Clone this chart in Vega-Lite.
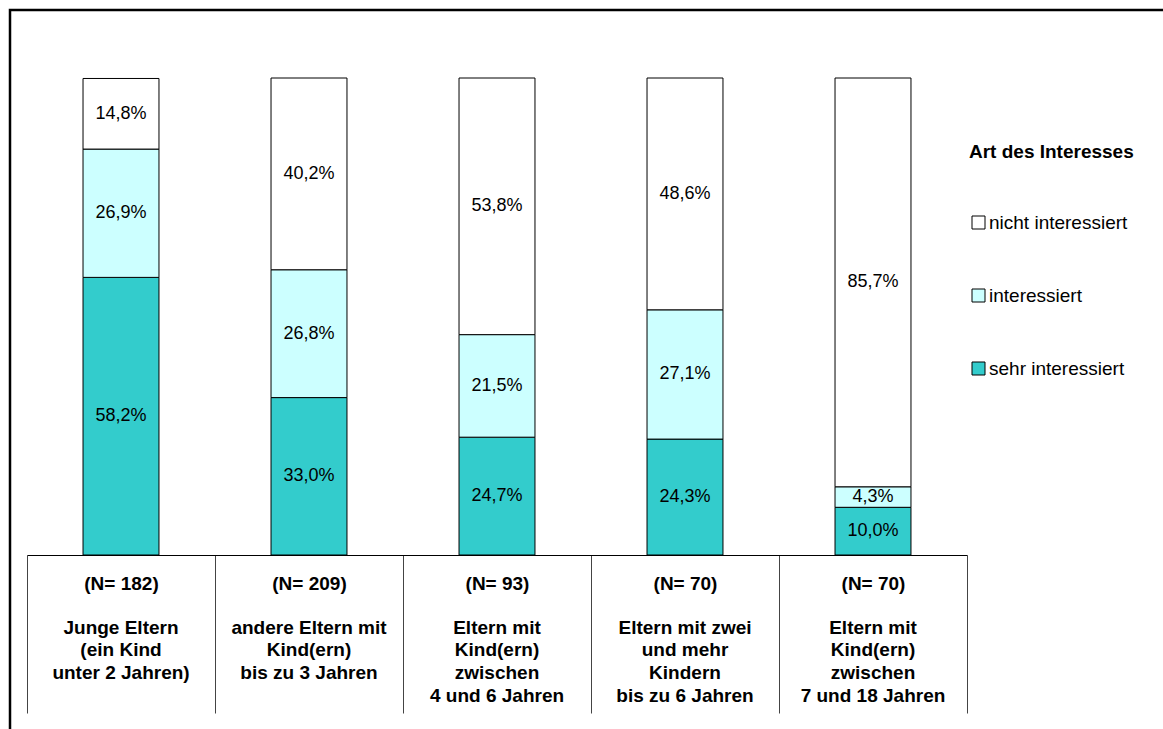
{
  "$schema": "https://vega.github.io/schema/vega-lite/v6.json",
  "width": 1160,
  "height": 725,
  "autosize": {"type": "none"},
  "padding": {"left": 10, "top": 10, "right": 0, "bottom": 0},
  "background": "white",
  "config": {
    "view": {"stroke": "black", "strokeWidth": 2.5},
    "font": "Liberation Sans"
  },
  "data": {
    "values": [
      {"Gruppe": "(N= 182)|Junge Eltern|(ein Kind|unter 2 Jahren)", "Art": "sehr interessiert", "v": 58.2},
      {"Gruppe": "(N= 182)|Junge Eltern|(ein Kind|unter 2 Jahren)", "Art": "interessiert", "v": 26.9},
      {"Gruppe": "(N= 182)|Junge Eltern|(ein Kind|unter 2 Jahren)", "Art": "nicht interessiert", "v": 14.8},
      {"Gruppe": "(N= 209)|andere Eltern mit|Kind(ern)|bis zu 3 Jahren", "Art": "sehr interessiert", "v": 33.0},
      {"Gruppe": "(N= 209)|andere Eltern mit|Kind(ern)|bis zu 3 Jahren", "Art": "interessiert", "v": 26.8},
      {"Gruppe": "(N= 209)|andere Eltern mit|Kind(ern)|bis zu 3 Jahren", "Art": "nicht interessiert", "v": 40.2},
      {"Gruppe": "(N= 93)|Eltern mit|Kind(ern)|zwischen|4 und 6 Jahren", "Art": "sehr interessiert", "v": 24.7},
      {"Gruppe": "(N= 93)|Eltern mit|Kind(ern)|zwischen|4 und 6 Jahren", "Art": "interessiert", "v": 21.5},
      {"Gruppe": "(N= 93)|Eltern mit|Kind(ern)|zwischen|4 und 6 Jahren", "Art": "nicht interessiert", "v": 53.8},
      {"Gruppe": "(N= 70)|Eltern mit zwei|und mehr|Kindern|bis zu 6 Jahren", "Art": "sehr interessiert", "v": 24.3},
      {"Gruppe": "(N= 70)|Eltern mit zwei|und mehr|Kindern|bis zu 6 Jahren", "Art": "interessiert", "v": 27.1},
      {"Gruppe": "(N= 70)|Eltern mit zwei|und mehr|Kindern|bis zu 6 Jahren", "Art": "nicht interessiert", "v": 48.6},
      {"Gruppe": "(N= 70)|Eltern mit|Kind(ern)|zwischen|7 und 18 Jahren", "Art": "sehr interessiert", "v": 10.0},
      {"Gruppe": "(N= 70)|Eltern mit|Kind(ern)|zwischen|7 und 18 Jahren", "Art": "interessiert", "v": 4.3},
      {"Gruppe": "(N= 70)|Eltern mit|Kind(ern)|zwischen|7 und 18 Jahren", "Art": "nicht interessiert", "v": 85.7}
    ]
  },
  "transform": [
    {"calculate": "indexof(['sehr interessiert','interessiert','nicht interessiert'], datum.Art)", "as": "o"},
    {"stack": "v", "groupby": ["Gruppe"], "sort": [{"field": "o", "order": "ascending"}], "as": ["v0", "v1"]},
    {"calculate": "(datum.v0 + datum.v1) / 2", "as": "mid"},
    {"calculate": "replace(format(datum.v, '.1f'), '.', ',') + '%'", "as": "label"}
  ],
  "resolve": {"axis": {"x": "independent"}},
  "layer": [
    {
      "mark": {"type": "bar", "stroke": "black", "strokeWidth": 1, "opacity": 1, "width": {"band": 0.404}},
      "encoding": {
        "x": {
          "field": "Gruppe",
          "type": "nominal",
          "sort": null,
          "scale": {"range": [17, 957], "paddingInner": 0, "paddingOuter": 0},
          "axis": {
            "title": null,
            "orient": "bottom",
            "offset": -180,
            "domainColor": "black",
            "domainWidth": 1,
            "tickBand": "extent",
            "tickSize": 158,
            "tickColor": "#444444",
            "tickWidth": 1,
            "labelExpr": "split(datum.label, '|')[0]",
            "labelFontSize": 19,
            "labelFontWeight": "bold",
            "labelColor": "black",
            "labelPadding": -139,
            "labelAngle": 0,
            "labelBaseline": "top",
            "labelLimit": 0,
            "grid": false
          }
        },
        "y": {"field": "v0", "type": "quantitative", "scale": {"domain": [0, 100], "range": [545, 68]}, "axis": null},
        "y2": {"field": "v1"},
        "color": {
          "field": "Art",
          "type": "nominal",
          "scale": {
            "domain": ["nicht interessiert", "interessiert", "sehr interessiert"],
            "range": ["#FFFFFF", "#CCFFFF", "#33CCCC"]
          },
          "legend": {
            "orient": "none",
            "legendX": 959,
            "legendY": 133,
            "padding": 0,
            "title": "Art des Interesses",
            "titleFontSize": 19,
            "titleFontWeight": "bold",
            "titleColor": "black",
            "labelFontSize": 19,
            "labelColor": "black",
            "symbolType": "square",
            "symbolSize": 169,
            "symbolStrokeColor": "black",
            "symbolStrokeWidth": 1,
            "symbolOpacity": 1,
            "rowPadding": 53,
            "titlePadding": 51,
            "labelOffset": 1
          }
        }
      }
    },
    {
      "mark": {"type": "text", "fontSize": 18, "color": "black"},
      "encoding": {
        "x": {
          "field": "Gruppe",
          "type": "nominal",
          "sort": null,
          "axis": {
            "title": null,
            "orient": "bottom",
            "offset": -180,
            "domain": false,
            "ticks": false,
            "tickSize": 0,
            "labelExpr": "slice(split(datum.label, '|'), 1)",
            "labelFontSize": 19,
            "labelFontWeight": "bold",
            "labelColor": "black",
            "labelLineHeight": 22.7,
            "labelPadding": 63,
            "labelAngle": 0,
            "labelBaseline": "top",
            "labelLimit": 0,
            "grid": false
          }
        },
        "y": {"field": "mid", "type": "quantitative"},
        "text": {"field": "label"}
      }
    }
  ]
}
